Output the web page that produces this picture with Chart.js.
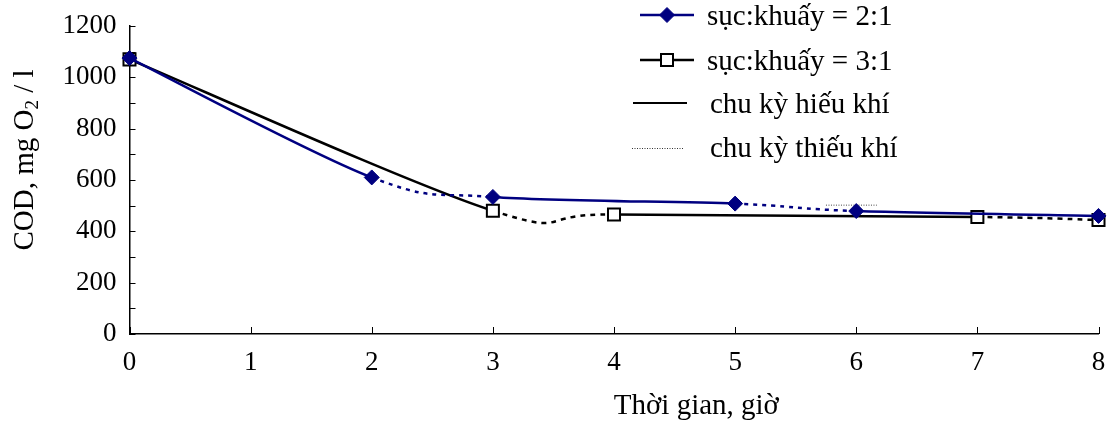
<!DOCTYPE html>
<html>
<head>
<meta charset="utf-8">
<script src="https://cdn.jsdelivr.net/npm/chart.js@4.4.0/dist/chart.umd.min.js"></script>
<style>
html,body{margin:0;padding:0;background:#fff;}
#wrap{width:1109px;height:423px;position:relative;}
</style>
</head>
<body>
<div id="wrap"><canvas id="c"></canvas></div>
<script>
// ---- data ----
const xTickValues = [0, 1, 2, 3, 4, 5, 6, 7, 8];
const yTickValues = [0, 200, 400, 600, 800, 1000, 1200];
const hours21 = [0, 2, 3, 5, 6, 8];
const cod21 = [1075, 610, 534, 508, 479, 460];
const phase21 = ['aer', 'anox', 'aer', 'anox', 'aer'];
const hours31 = [0, 3, 4, 7, 8];
const cod31 = [1070, 480, 466, 456, 444];
const phase31 = ['aer', 'anox', 'aer', 'anox'];
const strayHours = [5.75, 6.17];
const strayCod = [502, 502];
const legendLabels = ['sục:khuấy = 2:1', 'sục:khuấy = 3:1', 'chu kỳ hiếu khí', 'chu kỳ thiếu khí'];
const xTitle = 'Thời gian, giờ';
const yTitleParts = ['COD, mg O', '2', ' / l'];

const FONT = "'Liberation Serif', 'Times New Roman', serif";
const NAVY = '#000080';
const toPts = (xs, ys) => xs.map((x, i) => ({x: x, y: ys[i]}));

// Excel-like smoothing (Catmull-Rom control points from the library's pixel positions)
const excelSmooth = {
  id: 'excelSmooth',
  beforeDatasetsDraw(chart) {
    chart.getSortedVisibleDatasetMetas().forEach(meta => {
      const line = meta.dataset;
      if (!line || !line.options.tension) return;
      if (line.updateControlPoints) line.updateControlPoints(chart.chartArea, 'x');
      const pts = meta.data;
      for (let i = 0; i < pts.length; i++) {
        const p = pts[i], prev = pts[i - 1] || p, next = pts[i + 1] || p;
        const dx = (next.x - prev.x) / 6, dy = (next.y - prev.y) / 6;
        p.cp1x = p.x - dx; p.cp1y = p.y - dy;
        p.cp2x = p.x + dx; p.cp2y = p.y + dy;
      }
      line._pointsUpdated = true;
      line._path = undefined;
    });
  }
};

const tickMarks = {
  id: 'tickMarks',
  beforeDatasetsDraw(chart) {
    const ctx = chart.ctx, xs = chart.scales.x, ys = chart.scales.y, a = chart.chartArea;
    ctx.save();
    ctx.strokeStyle = '#000';
    ctx.lineWidth = 1;
    ys.ticks.forEach(t => {
      const py = Math.round(ys.getPixelForValue(t.value)) + 0.5;
      ctx.beginPath(); ctx.moveTo(a.left, py); ctx.lineTo(a.left + 6, py); ctx.stroke();
    });
    xs.ticks.forEach(t => {
      const px = Math.round(xs.getPixelForValue(t.value)) + 0.5;
      ctx.beginPath(); ctx.moveTo(px, a.bottom); ctx.lineTo(px, a.bottom - 7); ctx.stroke();
    });
    ctx.restore();
  }
};

function drawDiamond(ctx, x, y, r, fill) {
  ctx.beginPath();
  ctx.moveTo(x, y - r); ctx.lineTo(x + r, y); ctx.lineTo(x, y + r); ctx.lineTo(x - r, y); ctx.closePath();
  ctx.fillStyle = fill; ctx.fill();
  ctx.strokeStyle = fill; ctx.lineWidth = 1; ctx.stroke();
}
function drawSquare(ctx, x, y, half) {
  ctx.beginPath();
  ctx.rect(x - half, y - half, half * 2, half * 2);
  ctx.fillStyle = '#fff'; ctx.fill();
  ctx.strokeStyle = '#000'; ctx.lineWidth = 2; ctx.stroke();
}

const titlesAndLegend = {
  id: 'titlesAndLegend',
  afterDraw(chart) {
    const ctx = chart.ctx, a = chart.chartArea;
    ctx.save();
    ctx.fillStyle = '#000';
    ctx.textBaseline = 'alphabetic';
    // x title
    ctx.font = '29px ' + FONT;
    ctx.textAlign = 'center';
    ctx.fillText(xTitle, a.left + 0.585 * (a.right - a.left), 414);
    // y title (rotated, subscript)
    ctx.save();
    ctx.translate(33, 160);
    ctx.rotate(-Math.PI / 2);
    ctx.textAlign = 'left';
    const big = '29px ' + FONT, small = '19px ' + FONT;
    ctx.font = big; const w0 = ctx.measureText(yTitleParts[0]).width;
    ctx.font = small; const w1 = ctx.measureText(yTitleParts[1]).width;
    ctx.font = big; const w2 = ctx.measureText(yTitleParts[2]).width;
    let x0 = -(w0 + w1 + w2) / 2;
    ctx.font = big; ctx.fillText(yTitleParts[0], x0, 0);
    ctx.font = small; ctx.fillText(yTitleParts[1], x0 + w0, 5);
    ctx.font = big; ctx.fillText(yTitleParts[2], x0 + w0 + w1, 0);
    ctx.restore();

    // legend
    ctx.font = '29px ' + FONT;
    ctx.textAlign = 'left';
    // entry 1
    ctx.strokeStyle = NAVY; ctx.lineWidth = 2.5;
    ctx.beginPath(); ctx.moveTo(640, 15); ctx.lineTo(694, 15); ctx.stroke();
    drawDiamond(ctx, 667, 15, 7.5, NAVY);
    ctx.fillStyle = '#000'; ctx.fillText(legendLabels[0], 707, 25);
    // entry 2
    ctx.strokeStyle = '#000'; ctx.lineWidth = 2.5;
    ctx.beginPath(); ctx.moveTo(640, 60); ctx.lineTo(694, 60); ctx.stroke();
    drawSquare(ctx, 667, 60, 6);
    ctx.fillStyle = '#000'; ctx.fillText(legendLabels[1], 707, 70);
    // entry 3
    ctx.strokeStyle = '#000'; ctx.lineWidth = 2;
    ctx.beginPath(); ctx.moveTo(633, 103); ctx.lineTo(687, 103); ctx.stroke();
    ctx.fillText(legendLabels[2], 710, 113);
    // entry 4
    ctx.strokeStyle = '#333'; ctx.lineWidth = 1; ctx.setLineDash([1, 1.5]);
    ctx.beginPath(); ctx.moveTo(632, 148.5); ctx.lineTo(684, 148.5); ctx.stroke();
    ctx.setLineDash([]);
    ctx.fillText(legendLabels[3], 710, 157);
    ctx.restore();
  }
};

const tickFont = {family: FONT, size: 27};

new Chart(document.getElementById('c'), {
  type: 'line',
  data: {
    datasets: [
      {
        label: legendLabels[0],
        data: toPts(hours21, cod21),
        borderColor: NAVY, borderWidth: 2.5,
        pointStyle: 'rectRot', pointRadius: 7.5,
        pointBackgroundColor: NAVY, pointBorderColor: NAVY, pointBorderWidth: 1,
        tension: 0.4, order: 0, clip: false,
        segment: {borderDash: c => phase21[c.p0DataIndex] === 'anox' ? [4, 5] : undefined}
      },
      {
        label: legendLabels[1],
        data: toPts(hours31, cod31),
        borderColor: '#000', borderWidth: 2.5,
        pointStyle: 'rect', pointRadius: 8.5,
        pointBackgroundColor: '#fff', pointBorderColor: '#000', pointBorderWidth: 2,
        tension: 0.4, order: 1, clip: false,
        segment: {borderDash: c => phase31[c.p0DataIndex] === 'anox' ? [5, 5] : undefined}
      },
      {
        label: 'stray',
        data: toPts(strayHours, strayCod),
        borderColor: '#444', borderWidth: 1, borderDash: [1, 1.5],
        pointRadius: 0, tension: 0, order: 2
      }
    ]
  },
  options: {
    responsive: true,
    maintainAspectRatio: false,
    animation: false,
    events: [],
    layout: {padding: {top: 26, right: 2, left: 0, bottom: 0}},
    plugins: {legend: {display: false}, tooltip: {enabled: false}},
    scales: {
      x: {
        type: 'linear', min: 0, max: 8,
        grid: {display: false, drawTicks: false},
        border: {display: true, color: '#000', width: 1.5},
        ticks: {
          stepSize: 1, autoSkip: false, maxRotation: 0, color: '#000', font: tickFont, padding: 13,
          callback: v => xTickValues.includes(v) ? String(v) : ''
        },
        afterFit(s) { s.height = 89; s.paddingLeft = 0; s.paddingRight = 0; }
      },
      y: {
        type: 'linear', min: 0, max: 1200,
        grid: {display: false, drawTicks: false},
        border: {display: true, color: '#000', width: 1.5},
        ticks: {
          stepSize: 100, autoSkip: false, color: '#000', font: tickFont, padding: 13,
          callback: v => yTickValues.includes(v) ? String(v) : ''
        },
        afterFit(s) { s.width = 129.5; s.paddingTop = 0; s.paddingBottom = 0; }
      }
    }
  },
  plugins: [excelSmooth, tickMarks, titlesAndLegend]
});
</script>
</body>
</html>
